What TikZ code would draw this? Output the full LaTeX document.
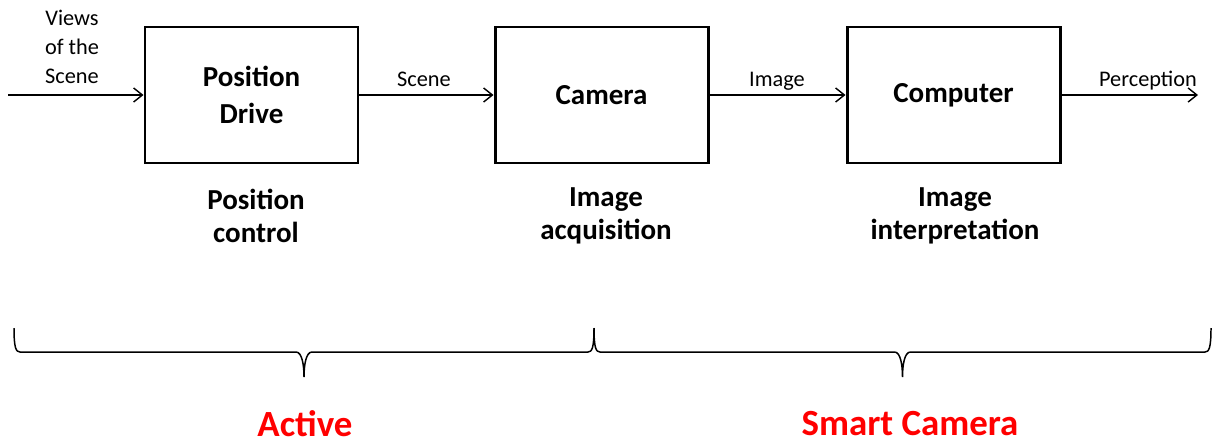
\documentclass[tikz,border=0pt]{standalone}
\usepackage{fontspec}
\setmainfont{Carlito}
\usetikzlibrary{arrows.meta}
\definecolor{labelred}{RGB}{255,0,0}

\begin{document}
\begin{tikzpicture}[block/.style ={draw,line width=1.7pt,minimum width=4.26cm,minimum height=2.72cm,align=center,font=\fontsize{16.5}{21}\selectfont\bfseries},
  flow/.style={line width=0.8pt,-{Straight Barb[length=5pt,width=8pt]}},
  txt/.style={font=\fontsize{12.7}{16.7}\selectfont,align=center},
  stage/.style={font=\fontsize{16.5}{18.7}\selectfont\bfseries,align=center},
  brc/.style={line width=0.85pt},
  group/.style={font=\fontsize{21}{24}\selectfont\bfseries,text=labelred}]

\useasboundingbox (0,0) rectangle (24.48,-8.92);

% the three blocks
\node[block] (drive) at (5.03,-1.9) {Position\\Drive};
\node[block] (cam) at (12.03,-1.9) {Camera};
\node[block] (comp) at (19.07,-1.9) {Computer};

\coordinate (in) at (0.16,-1.9);
\coordinate (out) at (23.96,-1.9);

\draw [flow] (in) -- (drive);
\path (drive) edge [flow] (cam);
\path (cam) edge [flow] (comp);
\draw [flow] (comp) -- (out);

\node[txt] (views) at (1.44,-0.94) {Views\\of the\\Scene};
\node[txt,anchor=base] (scene) at (8.48,-1.72) {Scene};
\node[txt,anchor=base] (image) at (15.54,-1.72) {Image};
\node[txt,anchor=base] (perc) at (22.96,-1.72) {Perception};

%what each block does
\node[stage] (ctrl) at (5.12,-4.32) {Position\\control};
\node[stage] (acq) at (12.12,-4.32) {Image\\acquisition};
\node[stage] (interp) at (19.1,-4.32) {Image\\interpretation};

% braces
\coordinate (b1) at (0.28,-6.56);
\coordinate (b2) at (11.88,-6.56);
\coordinate (b3) at (24.22,-6.56);
\draw [brc] (b1) .. controls +(0,-0.4) and +(-0.08,0) .. ++(0.12,-0.48) -- (5.92,-7.04)
  .. controls +(0.12,0) and +(0,0.24) .. (6.08,-7.54)
  .. controls +(0,0.24) and +(-0.12,0) .. (6.24,-7.04) -- (11.76,-7.04)
  .. controls +(0.08,0) and +(0,-0.4) .. (b2);
\draw [brc] (b2) .. controls +(0,-0.4) and +(-0.08,0) .. ++(0.12,-0.48) -- (17.89,-7.04)
  .. controls +(0.12,0) and +(0,0.24) .. (18.05,-7.54)
  .. controls +(0,0.24) and +(-0.12,0) .. (18.21,-7.04) -- (24.10,-7.04)
  .. controls +(0.08,0) and +(0,-0.4) .. (b3);

\node[group] (active) at (6.1,-8.47) {Active};
\node[group] (smart) at (18.2,-8.47) {Smart Camera};
\end{tikzpicture}
\end{document}
